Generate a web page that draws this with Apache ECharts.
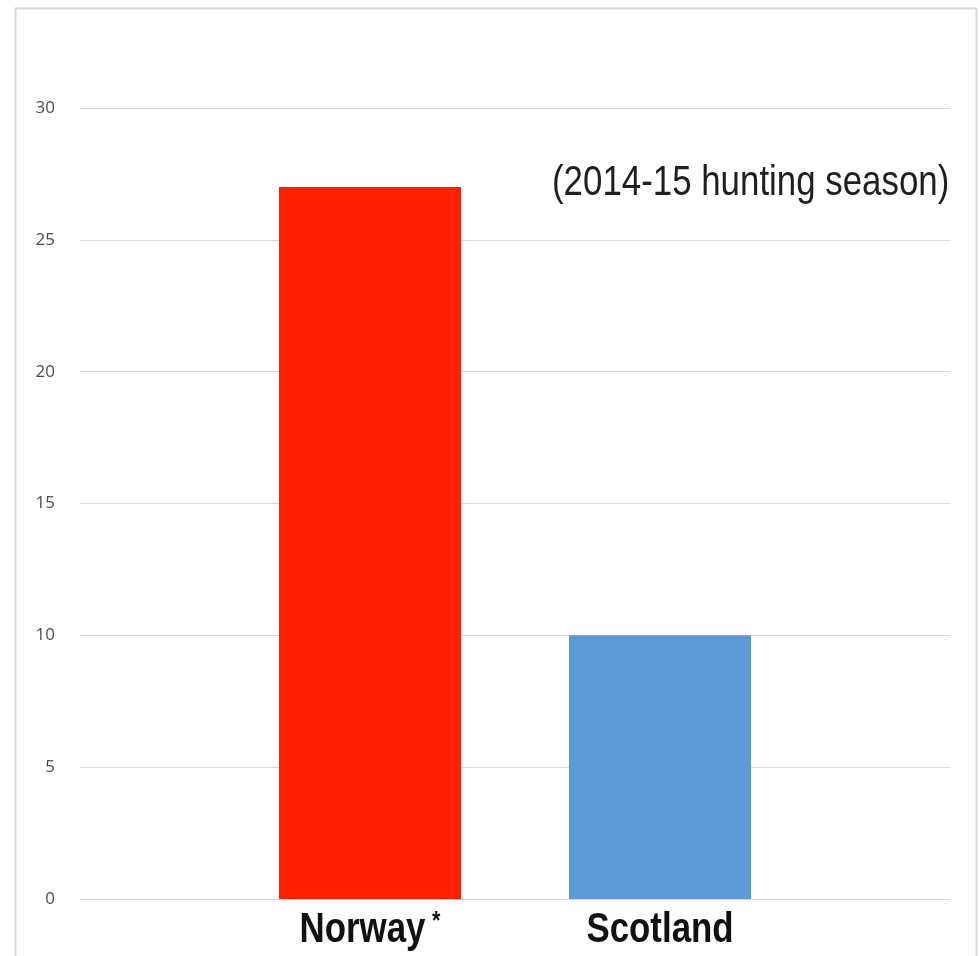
<!DOCTYPE html>
<html>
<head>
<meta charset="utf-8">
<style>
  html, body { margin: 0; padding: 0; background: #ffffff; }
  #chart { width: 980px; height: 956px; }
</style>
<script src="https://cdn.jsdelivr.net/npm/echarts@6/dist/echarts.min.js"></script>
</head>
<body>
<div id="chart"></div>
<script>
// Countries and their values for the 2014-15 season
const categories = ['Norway', 'Scotland'];
const values = [27, 10];
const footnoteMarks = ['*', ''];
const barColors = ['#ff2100', '#5b9bd5'];
const yTicks = [0, 5, 10, 15, 20, 25, 30];
const note = '(2014-15 hunting season)';

const sans = '"Liberation Sans", Arial, sans-serif';
const squeeze = 0.83; // horizontal condensing of the large captions

const chart = echarts.init(document.getElementById('chart'), null, { renderer: 'canvas' });

// Bars sit at x = 1, 2 on a 0..3 value axis
const barData = values.map((v, i) => ({
  value: [i + 1, v],
  itemStyle: { color: barColors[i] }
}));

chart.setOption({
  animation: false,
  backgroundColor: '#ffffff',
  grid: { left: 80, right: 30, top: 108, bottom: 57, containLabel: false },
  xAxis: {
    type: 'value',
    min: 0,
    max: 3,
    interval: 1,
    splitLine: { show: false },
    axisLine: { show: false },
    axisTick: { show: false },
    axisLabel: { show: false }
  },
  yAxis: {
    type: 'value',
    min: yTicks[0],
    max: yTicks[yTicks.length - 1],
    interval: 5,
    axisLine: { show: false },
    axisTick: { show: false },
    axisLabel: { margin: 25, fontSize: 17, color: '#4d4d4d', fontFamily: '"Open Sans", "Noto Sans", sans-serif' },
    splitLine: { lineStyle: { color: '#d9d9d9', width: 1 } }
  },
  series: [{
    type: 'bar',
    barWidth: 182,
    data: barData
  }]
});

// Category captions under each bar, placed through the x axis scale
const baseY = chart.convertToPixel({ yAxisIndex: 0 }, 0);
const captions = categories.map((name, i) => ({
  type: 'text',
  x: chart.convertToPixel({ xAxisIndex: 0 }, i + 1),
  y: baseY + 52,
  scaleX: squeeze,
  silent: true,
  style: {
    text: '{n|' + name + '}' + (footnoteMarks[i] ? '{s|' + footnoteMarks[i] + '}' : ''),
    align: 'center',
    verticalAlign: 'bottom',
    rich: {
      n: { fontFamily: sans, fontSize: 42, fontWeight: 'bold', fill: '#111111' },
      s: { fontFamily: sans, fontSize: 26, fontWeight: 'bold', fill: '#111111', verticalAlign: 'top', padding: [0, 0, 6, 8] }
    }
  }
}));

chart.setOption({
  graphic: [
    {
      type: 'rect',
      shape: { x: 15.5, y: 8.5, width: 961, height: 960 },
      style: { fill: 'none', stroke: '#d9d9d9', lineWidth: 2 },
      silent: true
    },
    {
      type: 'text',
      x: 552,
      y: 162,
      scaleX: squeeze,
      silent: true,
      style: {
        text: note,
        fontFamily: sans,
        fontSize: 42,
        fill: '#1f1f1f',
        align: 'left',
        verticalAlign: 'top'
      }
    }
  ].concat(captions)
});
</script>
</body>
</html>
